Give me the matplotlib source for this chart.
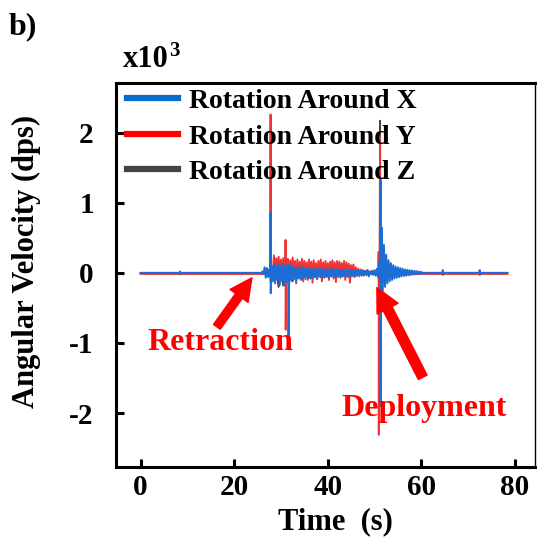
import numpy as np
import matplotlib
matplotlib.use("Agg")
import matplotlib.pyplot as plt
from matplotlib.lines import Line2D

plt.rcParams['font.family'] = ['Liberation Serif', 'DejaVu Serif']
plt.rcParams['font.weight'] = 'bold'
plt.rcParams['axes.unicode_minus'] = False

# ---------------- data (values in x10^3 dps) ----------------
series_names = ["Rotation Around X", "Rotation Around Y", "Rotation Around Z"]
t_start, t_end = 0.0, 78.4

# X (blue): noise envelope 26.0 s .. 50.5 s (0.5 s step)
x_env1_start = 26.0
x_env1_upper = [0.02, 0.08, 0.07, 0.05, 0.10, 0.12, 0.09, 0.12, 0.10, 0.13, 0.11, 0.12, 0.09, 0.10,
                0.07, 0.09, 0.06, 0.08, 0.07, 0.06, 0.08, 0.05, 0.07, 0.06, 0.05, 0.07, 0.05, 0.06,
                0.04, 0.06, 0.05, 0.04, 0.06, 0.04, 0.05, 0.04, 0.05, 0.04, 0.05, 0.04, 0.04, 0.03,
                0.04, 0.03, 0.03, 0.04, 0.02, 0.03, 0.04, 0.06]
x_env1_lower = [-0.02, -0.07, -0.06, -0.05, -0.12, -0.15, -0.10, -0.17, -0.12, -0.18, -0.13, -0.15,
                -0.11, -0.09, -0.12, -0.08, -0.10, -0.07, -0.09, -0.06, -0.08, -0.07, -0.06, -0.08,
                -0.05, -0.07, -0.06, -0.05, -0.07, -0.05, -0.06, -0.05, -0.05, -0.06, -0.05, -0.05,
                -0.04, -0.05, -0.04, -0.05, -0.04, -0.03, -0.04, -0.03, -0.03, -0.05, -0.02, -0.03,
                -0.04, -0.06]
# X ring-down after deployment 51.0 s .. 60.0 s (0.5 s step)
x_env2_start = 51.0
x_env2_upper = [0.15, 0.65, 0.40, 0.26, 0.18, 0.14, 0.11, 0.09, 0.08, 0.07, 0.06, 0.05, 0.045,
                0.04, 0.035, 0.03, 0.025, 0.02, 0.015]
x_env2_lower = [-0.12, -0.26, -0.20, -0.15, -0.12, -0.10, -0.08, -0.07, -0.06, -0.05, -0.045,
                -0.04, -0.035, -0.03, -0.025, -0.02, -0.02, -0.015, -0.01]
# X spikes: time, peak up, peak down
x_spike_t = [8.4, 27.8, 31.6, 51.3, 64.6, 72.5]
x_spike_up = [0.02, 0.86, 0.10, 1.33, 0.04, 0.04]
x_spike_dn = [-0.02, -0.29, -0.91, -1.90, -0.03, -0.03]

# Y (red): noise envelope 28.0 s .. 50.5 s (0.5 s step)
y_base = -0.015
y_env_start = 28.0
y_env_upper = [0.05, 0.25, 0.21, 0.23, 0.19, 0.21, 0.30, 0.20, 0.18, 0.22, 0.17, 0.19, 0.16, 0.20,
               0.17, 0.15, 0.19, 0.16, 0.18, 0.14, 0.17, 0.19, 0.15, 0.17, 0.14, 0.16, 0.18, 0.15,
               0.17, 0.16, 0.14, 0.17, 0.15, 0.13, 0.11, 0.12, 0.08, 0.06, 0.05, 0.04, 0.03, 0.04,
               0.02, 0.03, 0.02, 0.03]
y_env_lower = [-0.03, -0.05, -0.08, -0.04, -0.10, -0.06, -0.12, -0.05, -0.09, -0.07, -0.15, -0.06,
               -0.08, -0.12, -0.05, -0.10, -0.07, -0.14, -0.06, -0.09, -0.05, -0.12, -0.07, -0.06,
               -0.10, -0.05, -0.08, -0.13, -0.06, -0.07, -0.05, -0.10, -0.06, -0.14, -0.05, -0.06,
               -0.04, -0.05, -0.03, -0.04, -0.03, -0.03, -0.02, -0.02, -0.02, -0.02]
y_spike_t = [27.8, 31.0, 50.9, 51.2]
y_spike_up = [2.26, 0.47, 0.30, 1.95]
y_spike_dn = [-0.10, -0.81, -2.31, -0.20]

# Z (gray): noise envelope 28.0 s .. 48.0 s (1 s step)
z_env_start = 28.0
z_env_upper = [0.05, 0.06, 0.05, 0.04, 0.06, 0.05, 0.04, 0.05, 0.04, 0.03, 0.04, 0.03, 0.03,
               0.02, 0.03, 0.02, 0.02, 0.02, 0.01, 0.02, 0.01]
z_env_lower = [-0.10, -0.20, -0.18, -0.08, -0.12, -0.06, -0.09, -0.05, -0.07, -0.04, -0.06,
               -0.04, -0.05, -0.03, -0.04, -0.03, -0.03, -0.02, -0.02, -0.02, -0.01]
z_spike_t = [27.8, 51.2]
z_spike_up = [0.30, 2.17]
z_spike_dn = [-0.12, -0.35]

x_ticks = [0, 20, 40, 60, 80]
y_ticks = [-2, -1, 0, 1, 2]


def build(base, envs, spikes):
    pts = [(t_start, base), (t_end, base)]
    for start, step, up, lo in envs:
        tt = start + step * np.arange(len(up))
        pts.append((start - 0.05, base))
        pts.append((tt[-1] + step, base))
        for ti, u, l in zip(tt, up, lo):
            pts.append((ti, u))
            pts.append((ti + step / 2, l))
    for ts, u, l in zip(*spikes):
        pts.append((ts - 0.08, base))
        pts.append((ts - 0.02, u))
        pts.append((ts + 0.02, l))
        pts.append((ts + 0.08, base))
    pts.sort(key=lambda p: p[0])
    arr = np.array(pts)
    return arr[:, 0], arr[:, 1]


tx, vx = build(0.0, [(x_env1_start, 0.5, x_env1_upper, x_env1_lower),
                     (x_env2_start, 0.5, x_env2_upper, x_env2_lower)],
               (x_spike_t, x_spike_up, x_spike_dn))
ty, vy = build(y_base, [(y_env_start, 0.5, y_env_upper, y_env_lower)],
               (y_spike_t, y_spike_up, y_spike_dn))
tz, vz = build(0.0, [(z_env_start, 1.0, z_env_upper, z_env_lower)],
               (z_spike_t, z_spike_up, z_spike_dn))

blue = '#1c6ed6'
red = '#ee3535'
gray = '#444444'

fig = plt.figure(figsize=(5.37, 5.40), dpi=100)
ax = fig.add_axes([116 / 537, 1 - 467 / 540, (535 - 116) / 537, (467 - 83) / 540])

ax.plot(tz, vz, color=gray, lw=1.4, zorder=1)
ax.plot(ty, vy, color=red, lw=1.4, zorder=2)
ax.plot(tx, vx, color=blue, lw=1.4, zorder=3)

ax.set_xlim(-5.26, 84.3)
ax.set_ylim(-2.77, 2.71)
ax.set_xticks(x_ticks)
ax.set_yticks(y_ticks)
ax.tick_params(direction='in', length=5.5, width=2.2, labelsize=21)
ax.tick_params(axis='y', pad=16)
ax.tick_params(axis='x', pad=5)
for lab in ax.get_xticklabels() + ax.get_yticklabels():
    lab.set_fontweight('bold')
for sp in ax.spines.values():
    sp.set_linewidth(2.2)
ax.spines['right'].set_linewidth(1.0)

ax.set_xlabel('Time  (s)', fontsize=22, fontweight='bold')
ax.xaxis.set_label_coords((335 - 116) / 419, (467 - 507) / 384)
ax.xaxis.label.set_va('top')
ax.set_ylabel('Angular Velocity (dps)', fontsize=22, fontweight='bold')
ax.yaxis.set_label_coords((41 - 116) / 419, (467 - 261) / 384)

handles = [Line2D([], [], color='#0a6ccc', lw=4.5),
           Line2D([], [], color='#ff0000', lw=4.5),
           Line2D([], [], color=gray, lw=4.5)]
ax.legend(handles, series_names, loc='upper left', bbox_to_anchor=(0.026, 0.985),
          frameon=False, handlelength=1.85, handletextpad=0.38,
          labelspacing=0.36, borderpad=0, borderaxespad=0,
          prop={'weight': 'bold', 'size': 20})

# annotations
ax.annotate('', xy=(23.8, -0.07), xytext=(16.3, -0.77),
            arrowprops=dict(arrowstyle='simple,head_width=0.8,head_length=0.8,tail_width=0.3',
                            color='#ff0000', shrinkA=0, shrinkB=0, mutation_scale=20), zorder=5)
ax.text(17.0, -0.99, 'Retraction', color='#ff0000', fontsize=23, fontweight='bold',
        ha='center', va='center', zorder=5)
ax.annotate('', xy=(50.5, -0.21), xytext=(60.3, -1.49),
            arrowprops=dict(arrowstyle='simple,head_width=0.85,head_length=0.85,tail_width=0.35',
                            color='#ff0000', shrinkA=0, shrinkB=0, mutation_scale=20), zorder=5)
ax.text(60.6, -1.93, 'Deployment', color='#ff0000', fontsize=23, fontweight='bold',
        ha='center', va='center', zorder=5)

fig.text(123 / 537, 1 - 67 / 540, 'x10', fontsize=22, fontweight='bold', ha='left', va='baseline')
fig.text(169 / 537, 1 - 56 / 540, '3', fontsize=15, fontweight='bold', ha='left', va='baseline')
fig.text(9 / 537, 1 - 34 / 540, 'b)', fontsize=23, fontweight='bold', ha='left', va='baseline')

fig.savefig('out.png', dpi=100)
